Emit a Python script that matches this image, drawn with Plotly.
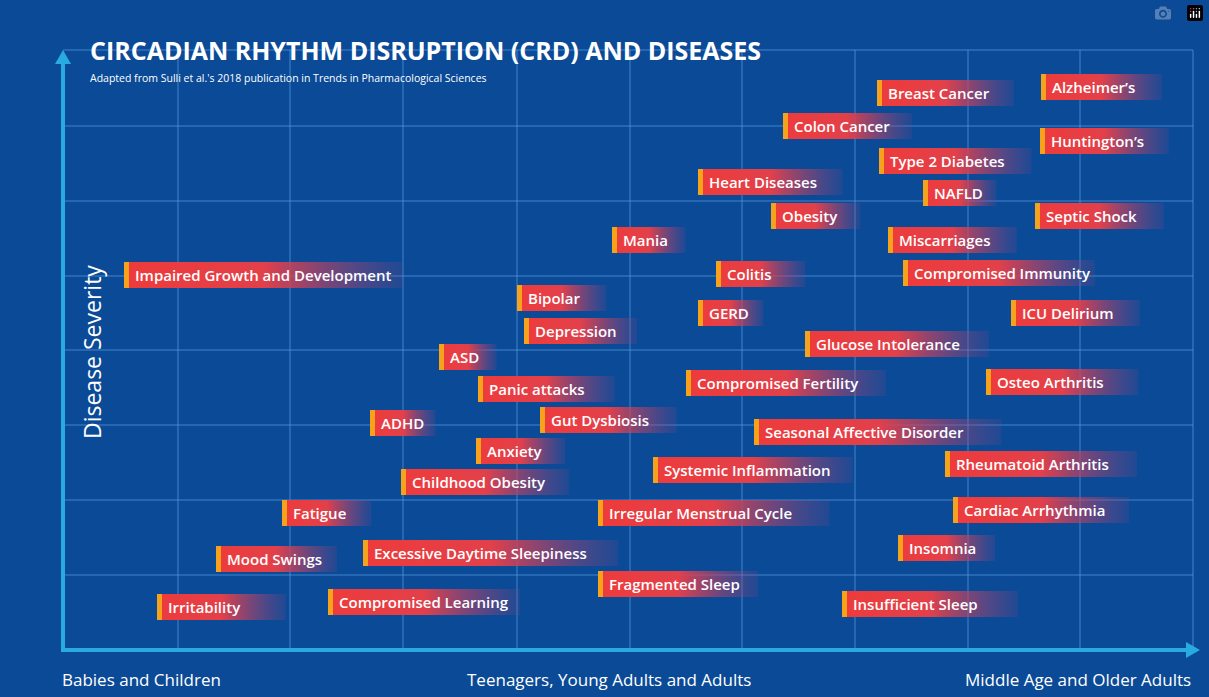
import plotly.graph_objects as go

labels = ["Breast Cancer","Alzheimer’s","Colon Cancer","Huntington’s","Type 2 Diabetes","Heart Diseases","NAFLD",
          "Obesity","Septic Shock","Mania","Miscarriages","Impaired Growth and Development","Colitis",
          "Compromised Immunity","Bipolar","GERD","ICU Delirium","Depression","Glucose Intolerance","ASD",
          "Panic attacks","Compromised Fertility","Osteo Arthritis","ADHD","Gut Dysbiosis",
          "Seasonal Affective Disorder","Anxiety","Systemic Inflammation","Rheumatoid Arthritis",
          "Childhood Obesity","Fatigue","Irregular Menstrual Cycle","Cardiac Arrhythmia","Mood Swings",
          "Excessive Daytime Sleepiness","Insomnia","Fragmented Sleep","Irritability","Compromised Learning",
          "Insufficient Sleep"]
age_pos = [877,1041,783,1040,879,698,923,771,1035,612,888,124,716,903,517,698,1011,524,805,439,478,686,986,
           370,540,754,476,653,945,401,282,598,953,216,363,898,598,157,328,842]
severity_pos = [93,87,126,141,161,182,193,216,216,240,240,275,274,273,298,313,313,331,344,357,389,383,382,
                423,420,432,451,470,464,482,513,513,510,559,553,548,584,607,602,604]
grid_x = [178,290,403,517,630,742,855,968,1080,1193]
grid_y = [50,126,201,276,350,425,500,575]
x_cats = ["Babies and Children","Teenagers, Young Adults and Adults","Middle Age and Older Adults"]

BG = "#0b4a96"
FONT = "Open Sans"
fig = go.Figure()
shapes = []
for gx in grid_x:
    shapes.append(dict(type="line", x0=gx, x1=gx, y0=50, y1=650, line=dict(color="rgba(90,160,230,0.45)", width=1.5), layer="below"))
for gy in grid_y:
    shapes.append(dict(type="line", x0=63, x1=1193, y0=gy, y1=gy, line=dict(color="rgba(90,160,230,0.45)", width=1.5), layer="below"))

ann = []
for lab, x, y in zip(labels, age_pos, severity_pos):
    w = len(lab) * 7.9 + 34
    fig.add_trace(go.Scatter(
        x=[x, x + w, x + w, x, x], y=[y - 13, y - 13, y + 13, y + 13, y - 13],
        mode="lines", line=dict(width=0), fill="toself", hoverinfo="skip", showlegend=False,
        fillgradient=dict(type="horizontal",
                          colorscale=[[0, "#ee3b3b"], [0.5, "#e2404a"], [1, "rgba(150,70,130,0.15)"]])))
    shapes.append(dict(type="rect", x0=x, x1=x + 5, y0=y - 13, y1=y + 13, fillcolor="#f7a21b", line=dict(width=0)))
    ann.append(dict(x=x + 9, y=y, text=lab, xanchor="left", yanchor="middle", showarrow=False,
                    font=dict(family=FONT, size=15, color="white", weight=600)))

shapes.append(dict(type="line", x0=63, x1=63, y0=652, y1=62, line=dict(color="#29abe2", width=4)))
shapes.append(dict(type="line", x0=61, x1=1188, y0=650, y1=650, line=dict(color="#29abe2", width=4)))
shapes.append(dict(type="path", path="M 55 64 L 71 64 L 63 50 Z", fillcolor="#29abe2", line=dict(width=0)))
shapes.append(dict(type="path", path="M 1186 642 L 1186 658 L 1200 650 Z", fillcolor="#29abe2", line=dict(width=0)))

ann += [
    dict(x=88, y=50, text="<b>CIRCADIAN RHYTHM DISRUPTION (CRD) AND DISEASES</b>", xanchor="left", yanchor="middle",
         showarrow=False, font=dict(family=FONT, size=25, color="white")),
    dict(x=88, y=78, text="Adapted from Sulli et al.'s 2018 publication in Trends in Pharmacological Sciences",
         xanchor="left", yanchor="middle", showarrow=False, font=dict(family=FONT, size=10.5, color="white")),
    dict(x=92, y=352, text="Disease Severity", textangle=-90, xanchor="center", yanchor="middle", showarrow=False,
         font=dict(family=FONT, size=23, color="white")),
    dict(x=60, y=679, text=x_cats[0], xanchor="left", yanchor="middle", showarrow=False,
         font=dict(family=FONT, size=17, color="white")),
    dict(x=609, y=679, text=x_cats[1], xanchor="center", yanchor="middle", showarrow=False,
         font=dict(family=FONT, size=17, color="white")),
    dict(x=1193, y=679, text=x_cats[2], xanchor="right", yanchor="middle", showarrow=False,
         font=dict(family=FONT, size=17, color="white")),
]

fig.update_layout(
    width=1209, height=697, margin=dict(l=0, r=0, t=0, b=0),
    paper_bgcolor=BG, plot_bgcolor=BG, shapes=shapes, annotations=ann, showlegend=False,
    xaxis=dict(range=[0, 1209], visible=False, fixedrange=True),
    yaxis=dict(range=[697, 0], visible=False, fixedrange=True),
)
fig.write_html("out.html")
with open("out.html", encoding="utf-8") as f:
    html = f.read()
html = html.replace("<head>", "<head><style>html,body{margin:0;padding:0;overflow:hidden;background:#0b4a96}</style>", 1)
with open("out.html", "w", encoding="utf-8") as f:
    f.write(html)
